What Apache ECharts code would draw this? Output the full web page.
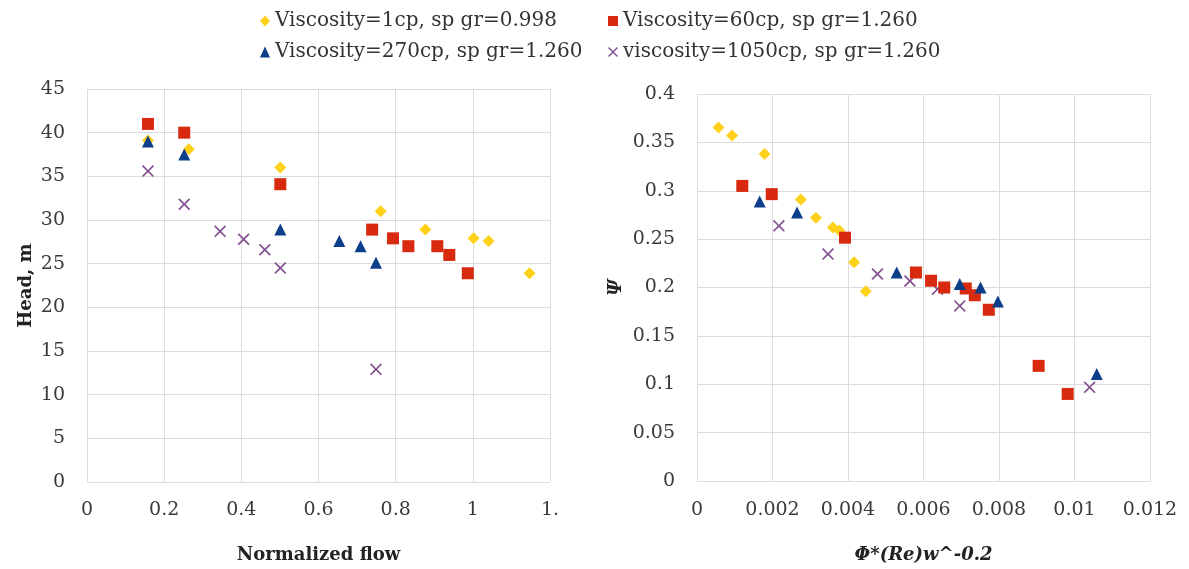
<!DOCTYPE html>
<html><head><meta charset="utf-8">
<script src="https://cdn.jsdelivr.net/npm/echarts@6/dist/echarts.min.js"></script>
<style>html,body{margin:0;padding:0;background:#fff}#c{width:1189px;height:569px}</style>
</head><body><div id="c"></div>
<script>
// Series names
const names = ['Viscosity=1cp, sp gr=0.998','Viscosity=60cp, sp gr=1.260','Viscosity=270cp, sp gr=1.260','viscosity=1050cp, sp gr=1.260'];
// Left chart: Normalized flow vs Head, m
const leftV1 = [[0.158,39.1],[0.264,38.1],[0.501,36.0],[0.761,31.0],[0.877,28.9],[1.002,27.9],[1.041,27.6],[1.147,23.9]];
const leftV60 = [[0.158,41.0],[0.252,40.0],[0.501,34.1],[0.739,28.9],[0.793,27.9],[0.833,27.0],[0.908,27.0],[0.939,26.0],[0.987,23.9]];
const leftV270 = [[0.158,39.0],[0.252,37.5],[0.501,28.9],[0.654,27.6],[0.709,27.0],[0.749,25.1]];
const leftV1050 = [[0.158,35.6],[0.252,31.8],[0.345,28.7],[0.406,27.8],[0.461,26.6],[0.501,24.5],[0.749,12.9]];
// Right chart: Φ*(Re)w^-0.2 vs Ψ
const rightV1 = [[0.00057,0.3655],[0.00093,0.357],[0.00179,0.338],[0.00275,0.291],[0.00315,0.272],[0.0036,0.262],[0.00377,0.259],[0.00416,0.226],[0.00447,0.196]];
const rightV60 = [[0.0012,0.305],[0.00198,0.2965],[0.00392,0.2515],[0.0058,0.2155],[0.0062,0.207],[0.00655,0.2],[0.00712,0.199],[0.00736,0.192],[0.00773,0.177],[0.00905,0.119],[0.00982,0.09]];
const rightV270 = [[0.00166,0.289],[0.00265,0.2775],[0.00529,0.2155],[0.00696,0.2035],[0.00751,0.2],[0.00797,0.1855],[0.01059,0.1105]];
const rightV1050 = [[0.00217,0.2637],[0.00347,0.2345],[0.00478,0.214],[0.00564,0.2067],[0.00637,0.1983],[0.00696,0.181],[0.0104,0.0968]];

const colors = ['#FFD11A','#D82A0E','#0D3E8A','#83508F'];
const xPath = 'path://M1,0L5,4L9,0L10,1L6,5L10,9L9,10L5,6L1,10L0,9L4,5L0,1Z';
const symbols = ['diamond','rect','triangle',xPath];
const sizes = [12,12,12,12];
const font = '"DejaVu Serif", "Liberation Serif", serif';

const leftData = [leftV1,leftV60,leftV270,leftV1050];
const rightData = [rightV1,rightV60,rightV270,rightV1050];

const series = [];
for (let i=0;i<4;i++){
  series.push({name:names[i],type:'scatter',xAxisIndex:0,yAxisIndex:0,data:leftData[i],symbol:symbols[i],symbolSize:sizes[i],itemStyle:{color:colors[i],opacity:1},z:[2,3,4,1][i]});
  series.push({name:names[i],type:'scatter',xAxisIndex:1,yAxisIndex:1,data:rightData[i],symbol:symbols[i],symbolSize:sizes[i],itemStyle:{color:colors[i],opacity:1},z:[2,3,4,1][i]});
}
const legendPos = [[260,11],[608,11],[260,42],[608,42]];
const legends = names.map((n,i)=>({
  data:[{name:n,icon:symbols[i]}], left:legendPos[i][0], top:legendPos[i][1], padding:0,
  itemWidth:10, itemHeight:[11,10,11,10][i], selectedMode:false,
  textStyle:{fontFamily:font,fontSize:20,color:'#333'}
}));
const gridLine = {show:true,lineStyle:{color:'#dcdcdc',width:1}};
const axLabel = {fontFamily:font,fontSize:19,color:'#3a3a3a'};
const opt = {
  animation:false,
  legend:legends,
  grid:[{left:87,top:89,width:463,height:403},{left:697,top:94,width:453,height:397}],
  xAxis:[
    {type:'value',gridIndex:0,min:0,max:1.2,interval:0.2,axisLine:{show:false},axisTick:{show:false},splitLine:gridLine,
     axisLabel:Object.assign({margin:19,formatter:v=>Math.abs(v-1.2)<1e-9?'1.':String(+v.toFixed(1))},axLabel),
     name:'Normalized flow',nameLocation:'middle',nameGap:64,nameTextStyle:{fontFamily:font,fontSize:18,fontWeight:'bold',color:'#222'}},
    {type:'value',gridIndex:1,min:0,max:0.012,interval:0.002,axisLine:{show:false},axisTick:{show:false},splitLine:gridLine,
     axisLabel:Object.assign({margin:20,formatter:v=>String(+v.toFixed(3))},axLabel),
     name:'Φ*(Re)w^-0.2',nameLocation:'middle',nameGap:65,nameTextStyle:{fontFamily:font,fontSize:18,fontWeight:'bold',fontStyle:'italic',color:'#222'}}
  ],
  yAxis:[
    {type:'value',gridIndex:0,min:0,max:45,interval:5,axisLine:{show:false},axisTick:{show:false},splitLine:gridLine,
     axisLabel:Object.assign({margin:22},axLabel),
     name:'Head, m',nameLocation:'middle',nameGap:52,nameTextStyle:{fontFamily:font,fontSize:18,fontWeight:'bold',color:'#222'}},
    {type:'value',gridIndex:1,min:0,max:0.4,interval:0.05,axisLine:{show:false},axisTick:{show:false},splitLine:gridLine,
     axisLabel:Object.assign({margin:22,formatter:v=>String(+v.toFixed(2))},axLabel),
     name:'Ψ',nameLocation:'middle',nameGap:72,nameTextStyle:{fontFamily:font,fontSize:18,fontWeight:'bold',fontStyle:'italic',color:'#222'}}
  ],
  series:series
};
const chart = echarts.init(document.getElementById('c'),null,{renderer:'canvas'});
chart.setOption(opt);
</script></body></html>
